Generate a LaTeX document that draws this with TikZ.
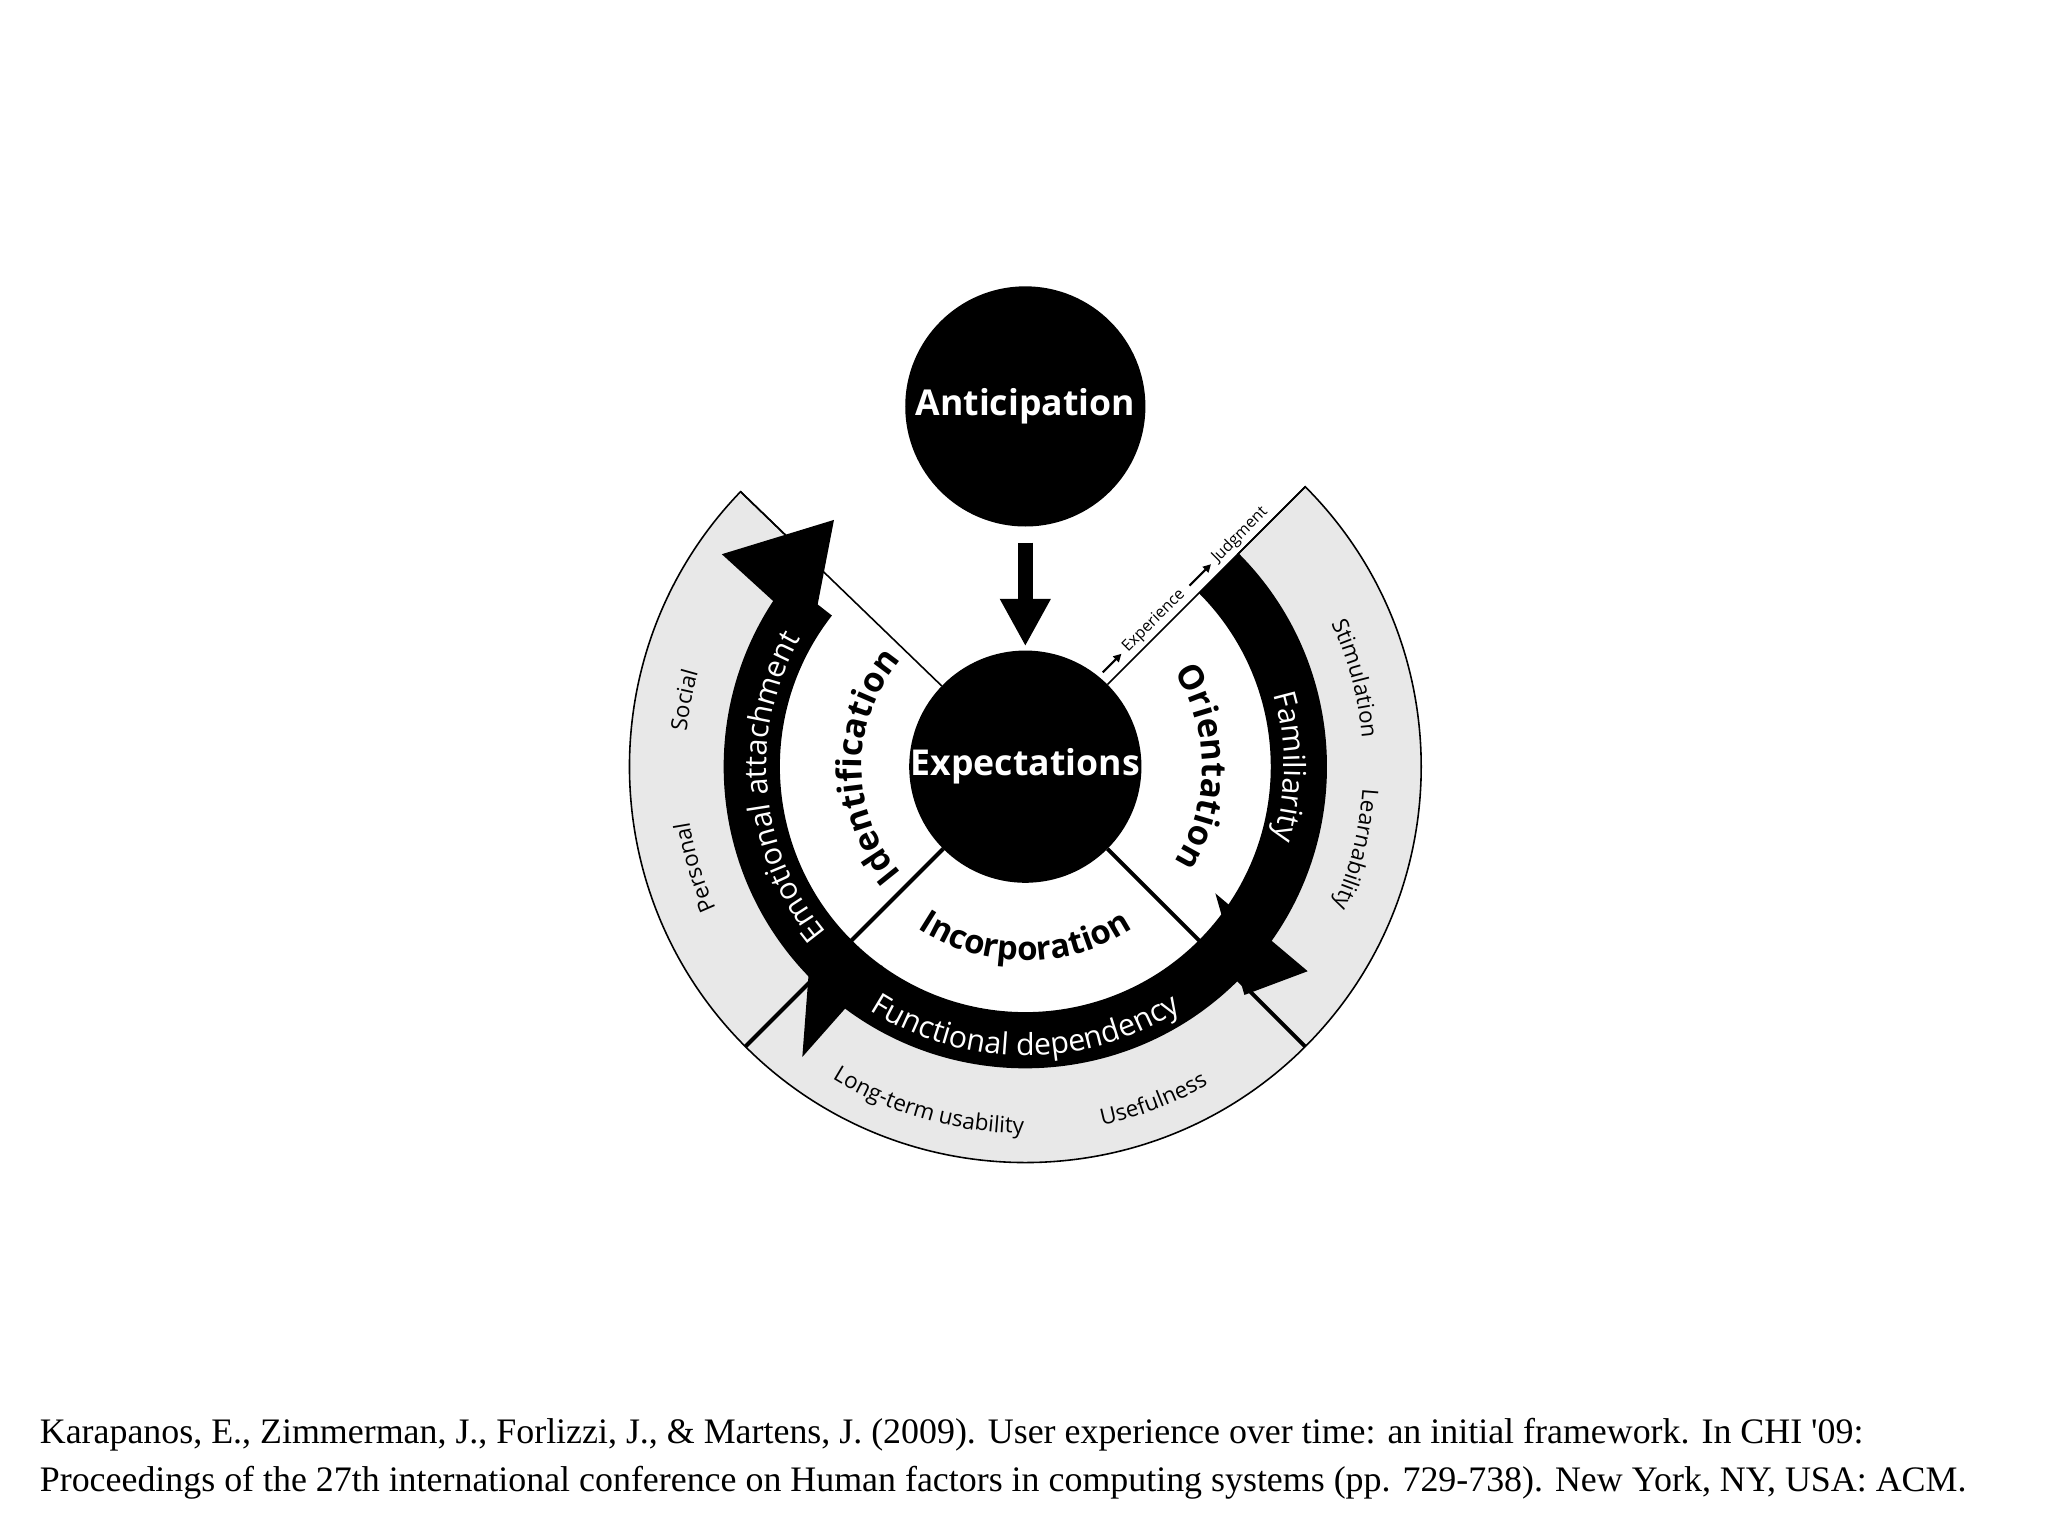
\documentclass[tikz,border=0pt]{standalone}
\usepackage{fontspec}
\setmainfont{Open Sans}
\newfontfamily\citefont{Liberation Serif}
\usetikzlibrary{calc,decorations.text,arrows.meta}
\begin{document}
\begin{tikzpicture}[x=1pt,y=1pt,
  bignode/.style={circle,fill=black,text=white,inner sep=0pt,font=\bfseries\fontsize{27}{27}\selectfont},
  thinline/.style={line width=1.2pt},
  thickline/.style={line width=3pt},
  arctext/.style={decorate,decoration={text along path,text align=center,text={#1}}},
  warctext/.style={decorate,decoration={text along path,text align=center,text color=white,text={#1}}}]
\useasboundingbox (0,0) rectangle (1552,1164);
\coordinate (C) at (777,583);
% gray ring
\filldraw[fill=black!9,draw=black,line width=1.2pt] ($(C)+(45:300pt)$) arc[start angle=45,end angle=-224,radius=300pt] -- ($(C)+(-224:228pt)$) arc[start angle=-224,end angle=45,radius=228pt] -- cycle;
% black band
\fill ($(C)+(45:228pt)$) arc[start angle=45,end angle=-218,radius=228pt] -- ($(C)+(-218:186pt)$) arc[start angle=-218,end angle=45,radius=186pt] -- cycle;
% heads
\begin{scope}[shift={(-7,4)}]
\fill (554,740) -- (639,766) -- (622,678) -- cycle;
\fill (621,438) -- (676,428) -- (615,359) -- cycle;
\fill (928,483) -- (998,424) -- (950,406) -- cycle;
\end{scope}
% radial lines
\draw[thinline] ($(C)+(136:88pt)$) -- ($(C)+(136:300pt)$);
\draw[thinline] ($(C)+(45:88pt)$) -- ($(C)+(45:300pt)$);
\draw[thickline] ($(C)+(-135:88pt)$) -- ($(C)+(-135:300pt)$);
\draw[thickline] ($(C)+(-45:88pt)$) -- ($(C)+(-45:300pt)$);
% nodes
\node[bignode,minimum size=176pt] (exp) at (C) {Expectations};
\node[bignode,minimum size=182pt] (ant) at (777,856) {Anticipation};
\draw[line width=11pt,-{Triangle[width=36pt,length=36pt]},shorten <=12pt,shorten >=3pt] (ant.south) -- (exp.north);
% inner labels
\path[arctext={|\bfseries\fontsize{26}{26}\selectfont|Identification}] ($(C)+(225:124pt)$) arc[start angle=225,end angle=135,radius=124pt];
\path[arctext={|\bfseries\fontsize{26}{26}\selectfont|Orientation}] ($(C)+(45:134pt)$) arc[start angle=45,end angle=-45,radius=134pt];
\path[arctext={|\bfseries\fontsize{25}{25}\selectfont|Incorporation}] ($(C)+(-150:147pt)$) arc[start angle=-150,end angle=-30,radius=147pt];
% band labels
\path[warctext={|\fontsize{23}{23}\selectfont|Emotional attachment}] ($(C)+(265:196pt)$) arc[start angle=265,end angle=105,radius=196pt];
\path[warctext={|\fontsize{23}{23}\selectfont|Familiarity}] ($(C)+(60:196pt)$) arc[start angle=60,end angle=-60,radius=196pt];
\path[warctext={|\fontsize{23}{23}\selectfont|Functional dependency}] ($(C)+(-160:219pt)$) arc[start angle=-160,end angle=-20,radius=219pt];
% ring labels
\path[arctext={|\fontsize{17}{17}\selectfont|Social}] ($(C)+(189:258pt)$) arc[start angle=189,end angle=149,radius=258pt];
\path[arctext={|\fontsize{17}{17}\selectfont|Personal}] ($(C)+(217:258pt)$) arc[start angle=217,end angle=177,radius=258pt];
\path[arctext={|\fontsize{17}{17}\selectfont|Stimulation}] ($(C)+(40:256pt)$) arc[start angle=40,end angle=-10,radius=256pt];
\path[arctext={|\fontsize{17}{17}\selectfont|Learnability}] ($(C)+(12:256pt)$) arc[start angle=12,end angle=-40,radius=256pt];
\path[arctext={|\fontsize{17}{17}\selectfont|Long-term usability}] ($(C)+(-136:278pt)$) arc[start angle=-136,end angle=-76,radius=278pt];
\path[arctext={|\fontsize{17}{17}\selectfont|Usefulness}] ($(C)+(-89:278pt)$) arc[start angle=-89,end angle=-49,radius=278pt];
% experience -> judgment
\coordinate (e1) at ($(C)+(45:92pt)+(135:9pt)$);
\coordinate (e2) at ($(C)+(45:112pt)+(135:9pt)$);
\coordinate (j1) at ($(C)+(45:185pt)+(135:9pt)$);
\coordinate (j2) at ($(C)+(45:208pt)+(135:9pt)$);
\draw[line width=1.6pt,-{Triangle[width=6pt,length=6pt]}] (e1) -- (e2);
\draw[line width=1.6pt,-{Triangle[width=6pt,length=6pt]}] (j1) -- (j2);
\node[rotate=45,anchor=south west,inner sep=0pt,font=\fontsize{12}{12}\selectfont] (ex) at ($(C)+(45:116pt)+(135:3pt)$) {Experience};
\node[rotate=45,anchor=south west,inner sep=0pt,font=\fontsize{12}{12}\selectfont] (ju) at ($(C)+(45:212pt)+(135:3pt)$) {Judgment};
% citation
\node[anchor=base west,inner sep=0pt,font=\citefont\fontsize{27.2}{27.2}\selectfont] (c1) at (30,70) {Karapanos, E., Zimmerman, J., Forlizzi, J., \& Martens, J. (2009). User experience over time: an initial framework. In CHI '09:};
\node[anchor=base west,inner sep=0pt,font=\citefont\fontsize{27.2}{27.2}\selectfont] (c2) at (30,34) {Proceedings of the 27th international conference on Human factors in computing systems (pp. 729-738). New York, NY, USA: ACM.};
\end{tikzpicture}
\end{document}
